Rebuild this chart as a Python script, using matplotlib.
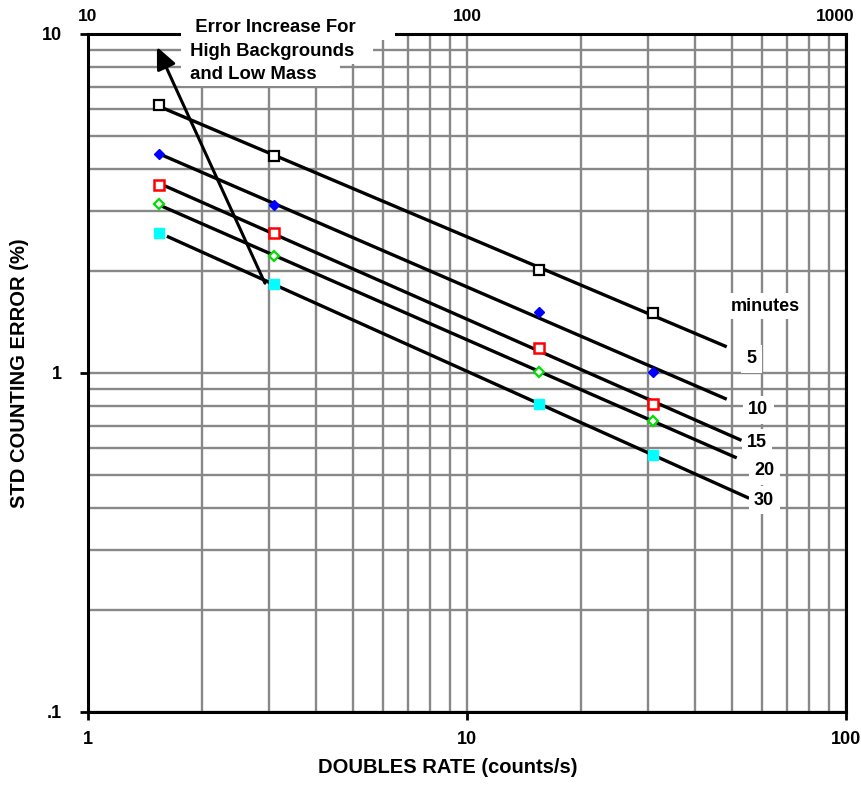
import numpy as np
import matplotlib
matplotlib.use('Agg')
import matplotlib.pyplot as plt
from matplotlib.ticker import FixedLocator, NullFormatter, LogLocator

# doubles rate (counts/s) and std counting error (%) per counting time
rate = [1.54, 3.09, 15.5, 31]
minutes = [5, 10, 15, 20, 30]
err_5 = [6.17, 4.37, 2.01, 1.50]
err_10 = [4.43, 3.13, 1.51, 1.01]
err_15 = [3.59, 2.59, 1.185, 0.81]
err_20 = [3.15, 2.21, 1.01, 0.722]
err_30 = [2.59, 1.83, 0.81, 0.573]
fit_start = [1.55, 1.57, 1.61, 1.58, 1.63]
fit_end = [48, 48, 52.5, 51, 55]
label_pos = [(56.2, 1.10), (58.6, 0.778), (58.2, 0.622), (60.8, 0.514), (60.8, 0.422)]

plt.rcParams['font.family'] = ['Liberation Sans', 'DejaVu Sans']
plt.rcParams['font.weight'] = 'bold'

fig = plt.figure(figsize=(8.61, 7.85), dpi=100)
ax = fig.add_axes([0.1022, 0.093, 0.8804, 0.8637])
ax.set_xscale('log')
ax.set_yscale('log')
ax.set_xlim(1, 100)
ax.set_ylim(0.1, 10)

ax.xaxis.set_major_locator(FixedLocator([1, 10, 100]))
ax.yaxis.set_major_locator(FixedLocator([0.1, 1, 10]))
ax.xaxis.set_minor_locator(LogLocator(base=10, subs=np.arange(2, 10)))
ax.yaxis.set_minor_locator(LogLocator(base=10, subs=np.arange(2, 10)))
ax.xaxis.set_minor_formatter(NullFormatter())
ax.yaxis.set_minor_formatter(NullFormatter())
ax.set_xticklabels(['1', '10', '100'])
ax.set_yticklabels(['.1', '1', '10'])
ax.tick_params(which='major', direction='out', length=6, width=2, labelsize=13)
ax.tick_params(axis='x', which='major', pad=8)
ax.tick_params(axis='y', which='major', pad=13)
ax.tick_params(which='minor', length=0)
ax.grid(which='both', color='#888888', lw=1.7)
ax.set_axisbelow(True)
for s in ax.spines.values():
    s.set_linewidth(2.2)
    s.set_color('black')

styles = [
    dict(marker='s', mfc='white', mec='black', ms=6.5, mew=1.6),
    dict(marker='D', mfc='blue', mec='blue', ms=5.5, mew=1),
    dict(marker='s', mfc='white', mec='red', ms=7, mew=1.8),
    dict(marker='D', mfc='white', mec='#00dd00', ms=5, mew=1.6),
    dict(marker='s', mfc='cyan', mec='cyan', ms=7.5, mew=1),
]
series = [err_5, err_10, err_15, err_20, err_30]
for i, err in enumerate(series):
    ax.plot(rate, err, ls='none', zorder=4, **styles[i])
    k, b = np.polyfit(np.log10(rate), np.log10(err), 1)
    xs = np.array([fit_start[i], fit_end[i]])
    ax.plot(xs, 10 ** (b + k * np.log10(xs)), color='black', lw=2.4, zorder=3)
    ax.text(label_pos[i][0], label_pos[i][1], str(minutes[i]), fontsize=13, ha='center',
            va='center', zorder=5,
            bbox=dict(boxstyle='square,pad=0.3', fc='white', ec='none'))

ax.text(61.1, 1.576, 'minutes', fontsize=13, ha='center', va='center', zorder=5,
        bbox=dict(boxstyle='square,pad=0.25', fc='white', ec='none'))

# top axis labels
top_x = [1, 10, 100]
top_lab = ['10', '100', '1000']
top_dx = [0, 0, -8]
for x, lab, dx in zip(top_x, top_lab, top_dx):
    ax.annotate(lab, xy=(x, 1), xycoords=('data', 'axes fraction'), xytext=(dx, 7),
                textcoords='offset points', ha='center', va='bottom', fontsize=12.5)

# arrow and note
ax.annotate('', xy=(1.52, 9.16), xytext=(2.93, 1.84),
            arrowprops=dict(arrowstyle='-|>,head_length=1.1,head_width=0.5',
                            mutation_scale=12, lw=2.2, color='black',
                            shrinkA=0, shrinkB=0), zorder=4)
note = ['  Error Increase For       ', ' High Backgrounds   ', ' and Low Mass    ']
note_y = [10.42, 8.85, 7.62]
for t, y in zip(note, note_y):
    ax.text(1.798, y, t, fontsize=13.3, ha='left', va='center', zorder=6,
            bbox=dict(boxstyle='square,pad=0.2', fc='white', ec='none'))

ax.set_xlabel('DOUBLES RATE (counts/s)', fontsize=14.5, fontweight='bold', labelpad=7)
ax.xaxis.label.set_x(0.475)
ax.set_ylabel('STD COUNTING ERROR (%)', fontsize=14.5, fontweight='bold', labelpad=9)

fig.savefig('out.png', dpi=100)
